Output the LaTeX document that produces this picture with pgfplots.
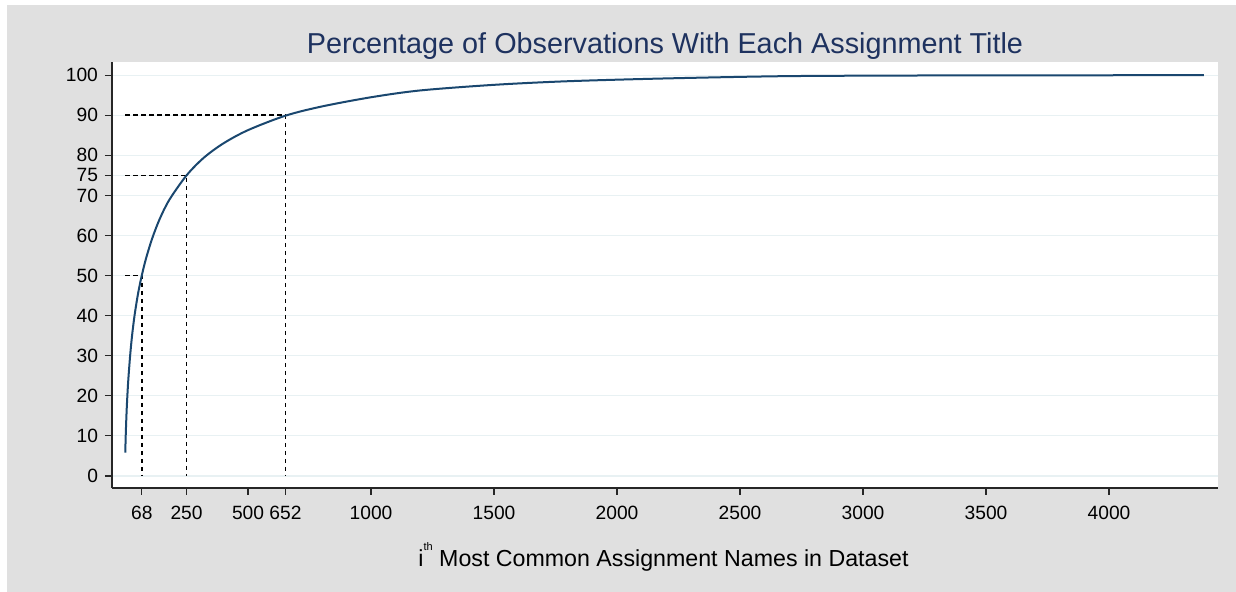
\documentclass[border=0pt]{standalone}
\usepackage{pgfplots}
\pgfplotsset{compat=1.18}
\usepackage{fontspec}
\setmainfont{Liberation Sans}
\definecolor{bgGray}{RGB}{224,224,224}
\definecolor{gridC}{RGB}{232,241,243}
\definecolor{curveC}{RGB}{26,71,111}
\definecolor{titleC}{RGB}{30,50,95}
\pgfplotstableread{
x y
1 5.8
2 8.3
3 10.5
5 14
7 17
9 19.5
12 22.8
15 25.5
20 29.5
25 32.9
30 35.8
37 39.3
45 42.6
55 46.2
68 50
85 54.2
110 59.2
140 64
180 68.9
250 75
320 79.4
400 83
500 86.3
652 89.9
800 92.2
1000 94.5
1200 96.2
1500 97.6
1800 98.5
2200 99.2
2663 99.75
3069 99.9
3500 99.96
4000 99.99
4386 100
}\cumdata
\begin{document}
\begin{tikzpicture}
\path[use as bounding box] (0,0) rectangle (618pt,296pt);
\fill[bgGray] (3.5pt,0) rectangle (618pt,293.5pt);
\begin{axis}[
  at={(56pt,52pt)}, anchor=south west,
  scale only axis, width=553pt, height=213pt,
  xmin=-53, xmax=4443, ymin=-3, ymax=103.3,
  axis x line*=bottom, axis y line*=left,
  axis line style={-, line width=0.7pt, black!85},
  axis background/.style={fill=white},
  xtick={68,250,500,652,1000,1500,2000,2500,3000,3500,4000},
  ytick={0,10,20,30,40,50,60,70,75,80,90,100},
  ymajorgrids, major grid style={gridC, line width=0.6pt},
  tick align=outside, major tick length=3.5pt,
  tick style={black!85, line width=0.6pt},
  /pgf/number format/assume math mode=true,
  xticklabel style={font=\fontsize{9.6}{11}\selectfont, anchor=base, yshift=-12.5pt},
  yticklabel style={font=\fontsize{9.6}{11}\selectfont},
  scaled x ticks=false,
  xticklabel={\pgfmathprintnumber[fixed,1000 sep={}]{\tick}},
  title={Percentage of Observations With Each Assignment Title},
  title style={font=\fontsize{14.4}{17}\selectfont, color=titleC, at={(0.5,1)}, anchor=base, yshift=-1.75pt},
  xlabel={i\raisebox{0.72em}{\fontsize{5.5}{6}\selectfont th} Most Common Assignment Names in Dataset},
  xlabel style={font=\fontsize{11.6}{13}\selectfont, at={(0.5,0)}, anchor=base, yshift=-39.5pt, xshift=-0.75pt},
  clip=false,
]
\addplot[black, line width=0.9pt, dash pattern=on 2.25pt off 1.75pt] coordinates {(0,50) (68,50) (68,0)};
\addplot[black, line width=0.9pt, dash pattern=on 2.25pt off 1.75pt] coordinates {(0,75) (250,75) (250,0)};
\addplot[black, line width=0.9pt, dash pattern=on 2.25pt off 1.75pt] coordinates {(0,90) (652,90) (652,0)};
\addplot[curveC, line width=1pt, smooth, tension=0.5] table[x=x, y=y] {\cumdata};
\end{axis}
\end{tikzpicture}
\end{document}
